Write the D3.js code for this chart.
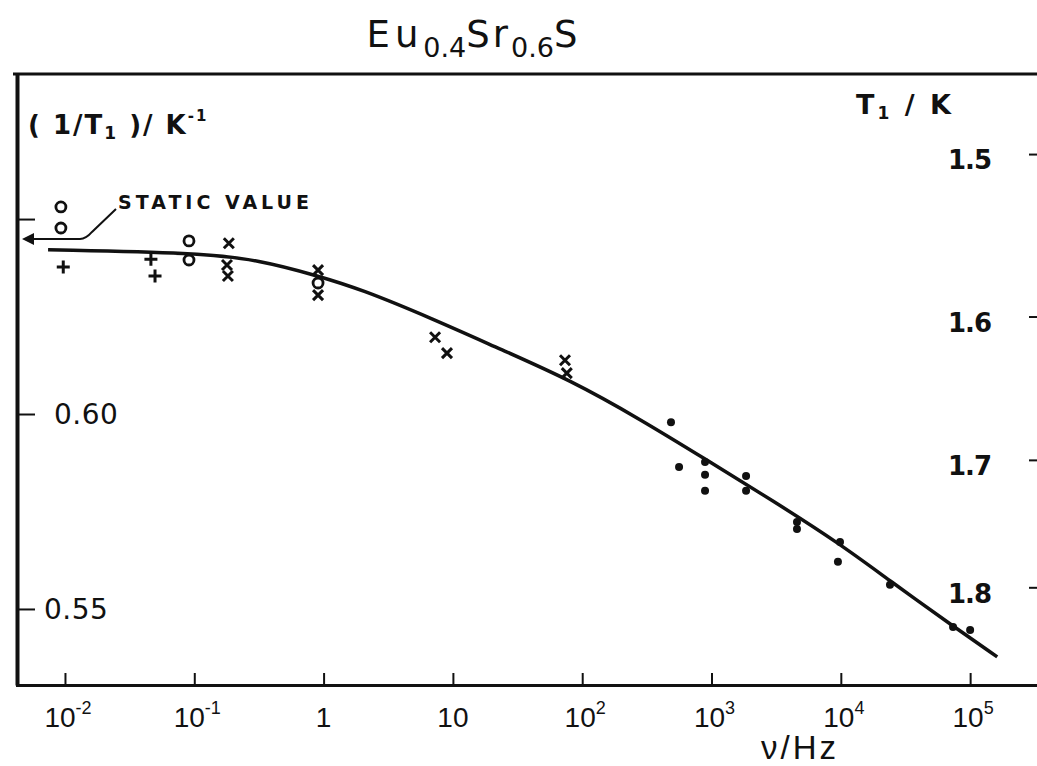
<!DOCTYPE html>
<html>
<head>
<meta charset="utf-8">
<script src="https://cdn.jsdelivr.net/npm/d3@7/dist/d3.min.js"></script>
<style>
  html, body { margin: 0; padding: 0; background: #fff; }
  svg { display: block; }
  text { fill: #111; }
</style>
</head>
<body>
<script>
// ---------------- DATA ----------------
// frequency (Hz) and 1/T1 (K^-1)
const circleNu  = [0.0093, 0.0093, 0.091, 0.091, 0.906];
const circleVal = [0.6531, 0.6477, 0.6444, 0.6395, 0.6336];

const plusNu  = [0.0097, 0.0462, 0.0497];
const plusVal = [0.6377, 0.6397, 0.6354];

const crossNu  = [0.185, 0.179, 0.182, 0.906, 0.906, 7.28, 9.0, 73.6, 76];
const crossVal = [0.6438, 0.6382, 0.6354, 0.6369, 0.6305, 0.6197, 0.6156, 0.6138, 0.6105];

const dotNu  = [486, 561, 891, 891, 891, 1850, 1850, 4580, 4580, 9860, 9500, 24000, 73800, 100000];
const dotVal = [0.5979, 0.5864, 0.5877, 0.5844, 0.5803, 0.5841, 0.5803, 0.5705, 0.5723, 0.5672, 0.5621, 0.5562, 0.5454, 0.5446];

const curveNu  = [0.0074, 0.105, 0.32, 0.906, 1.91, 7.0, 23, 81, 280, 920, 3000, 9860, 24000, 73800, 162000];
const curveVal = [0.6421, 0.6413, 0.6395, 0.6354, 0.6321, 0.6244, 0.6167, 0.6087, 0.5987, 0.5882, 0.5777, 0.5667, 0.5572, 0.5456, 0.5377];

const staticValue = 0.6449;

const xTicks = [1e-2, 1e-1, 1, 10, 1e2, 1e3, 1e4, 1e5];
const xTickLabels = [["10","-2"],["10","-1"],["1",""],["10",""],["10","2"],["10","3"],["10","4"],["10","5"]];
const yTicksLeft = [0.55, 0.60, 0.65];
const yTickLabelsLeft = ["0.55", "0.60", ""];
const tTicksRight = [1.5, 1.6, 1.7, 1.8];
const tTickLabelsRight = ["1.5", "1.6", "1.7", "1.8"];

// ---------------- LAYOUT ----------------
const W = 1037, H = 766;
const L = 17, R = 1045, T = 74, B = 685;
const ink = "#111";

const svg = d3.select("body").append("svg").attr("width", W).attr("height", H);

const x = d3.scaleLog().domain([Math.pow(10, -2.371), Math.pow(10, 5.579)]).range([L, R]);
const y = d3.scaleLinear().domain([0.5305, 0.6872]).range([B, T]);

// frame
svg.append("line").attr("x1", 13).attr("x2", W).attr("y1", T).attr("y2", T)
  .attr("stroke", ink).attr("stroke-width", 3);

// bottom axis (ticks pointing inward/up)
const gx = svg.append("g").attr("transform", `translate(0,${B})`)
  .call(d3.axisBottom(x).tickValues(xTicks).tickSize(-12).tickFormat(""));
gx.select(".domain").attr("stroke", ink).attr("stroke-width", 3);
gx.selectAll(".tick line").attr("stroke", ink).attr("stroke-width", 2);

// left axis (ticks pointing inward/right)
const gy = svg.append("g").attr("transform", `translate(${L},0)`)
  .call(d3.axisLeft(y).tickValues(yTicksLeft).tickSize(-18).tickSizeOuter(0).tickFormat(""));
gy.select(".domain").attr("stroke", ink).attr("stroke-width", 4);
gy.selectAll(".tick line").attr("stroke", ink).attr("stroke-width", 2);

// right axis on T1 = 1/(1/T1)
const gr = svg.append("g").attr("transform", `translate(${R},0)`)
  .call(d3.axisRight(y).tickValues(tTicksRight.map(t => 1 / t)).tickSize(-16).tickSizeOuter(0).tickFormat(""));
gr.select(".domain").attr("stroke", ink).attr("stroke-width", 3);
gr.selectAll(".tick line").attr("stroke", ink).attr("stroke-width", 2);

// x tick labels
const xl = svg.append("g").attr("font-family", "'Liberation Sans Narrow','Liberation Sans',sans-serif")
  .attr("font-size", 28);
xTicks.forEach((v, i) => {
  const t = xl.append("text").attr("x", x(v) + (xTickLabels[i][1] ? 3 : 0)).attr("y", 727).attr("text-anchor", "middle");
  t.append("tspan").text(xTickLabels[i][0]);
  if (xTickLabels[i][1]) {
    t.append("tspan").attr("font-size", 18).attr("dy", -13).text(xTickLabels[i][1]);
  }
});

// left tick labels (inside the plot)
yTicksLeft.forEach((v, i) => {
  if (!yTickLabelsLeft[i]) return;
  svg.append("text").attr("x", i === 0 ? 44 : 54).attr("y", y(v)).attr("dy", "0.36em")
    .attr("font-family", "'DejaVu Sans',sans-serif").attr("font-size", 28).attr("letter-spacing", 0.5)
    .text(yTickLabelsLeft[i]);
});

// right tick labels (inside the plot)
tTicksRight.forEach((t, i) => {
  svg.append("text").attr("x", 991).attr("y", y(1 / t) + 6).attr("dy", "0.36em")
    .attr("text-anchor", "end")
    .attr("font-family", "'DejaVu Sans',sans-serif").attr("font-weight", "bold").attr("font-size", 26)
    .attr("letter-spacing", -1)
    .text(tTickLabelsRight[i]);
});

// title
const title = svg.append("text").attr("x", 472).attr("y", 47).attr("text-anchor", "middle")
  .attr("font-family", "'DejaVu Sans',sans-serif").attr("font-size", 37);
title.append("tspan").attr("letter-spacing", 5).text("Eu");
title.append("tspan").attr("font-size", 27).attr("letter-spacing", 0).attr("dy", 10).text("0.4");
title.append("tspan").attr("letter-spacing", 3).attr("dy", -10).text("Sr");
title.append("tspan").attr("font-size", 27).attr("letter-spacing", 0).attr("dy", 10).text("0.6");
title.append("tspan").attr("dy", -10).text("S");

// left axis title
const lt = svg.append("text").attr("x", 28).attr("y", 134)
  .attr("font-family", "'DejaVu Sans',sans-serif").attr("font-size", 26).attr("font-weight", "bold")
  .attr("letter-spacing", 2);
lt.append("tspan").text("( 1/T");
lt.append("tspan").attr("font-size", 17).attr("dy", 5).text("1");
lt.append("tspan").attr("dy", -5).text(" )/ K");
lt.append("tspan").attr("font-size", 15).attr("dy", -13).text("-1");

// right axis title
const rt = svg.append("text").attr("x", 856).attr("y", 114)
  .attr("font-family", "'DejaVu Sans',sans-serif").attr("font-size", 27).attr("font-weight", "bold")
  .attr("letter-spacing", 3);
rt.append("tspan").text("T");
rt.append("tspan").attr("font-size", 17).attr("dy", 5).text("1");
rt.append("tspan").attr("dy", -5).text(" / K");

// x axis title
svg.append("text").attr("x", 800).attr("y", 759).attr("text-anchor", "middle")
  .attr("font-family", "'Liberation Sans Narrow','Liberation Sans',sans-serif").attr("font-size", 33)
  .attr("letter-spacing", 3)
  .text("ν/Hz");

// static value annotation
const sy = y(staticValue);
svg.append("path")
  .attr("d", `M${L + 5},${sy} L${L + 17},${sy - 6} L${L + 17},${sy + 6} Z`)
  .attr("fill", ink);
svg.append("path")
  .attr("d", `M${L + 17},${sy} L80,${sy} Q86,${sy} 92,${sy - 7} L116,${sy - 30}`)
  .attr("fill", "none").attr("stroke", ink).attr("stroke-width", 2);
svg.append("text").attr("x", 118).attr("y", 209)
  .attr("font-family", "'DejaVu Sans',sans-serif").attr("font-weight", "bold").attr("font-size", 19)
  .attr("letter-spacing", 4).text("STATIC VALUE");

// fitted curve
const curvePts = curveNu.map((n, i) => [x(n), y(curveVal[i])]);
svg.append("path").attr("d", d3.line().curve(d3.curveBasis)(curvePts))
  .attr("fill", "none").attr("stroke", ink).attr("stroke-width", 3.5);

// markers
const mk = svg.append("g");
circleNu.forEach((n, i) => {
  mk.append("circle").attr("cx", x(n)).attr("cy", y(circleVal[i])).attr("r", 5)
    .attr("fill", "#fff").attr("stroke", ink).attr("stroke-width", 2.8);
});
plusNu.forEach((n, i) => {
  const cx = x(n), cy = y(plusVal[i]), s = 6.5;
  mk.append("path").attr("d", `M${cx - s},${cy} H${cx + s} M${cx},${cy - s} V${cy + s}`)
    .attr("stroke", ink).attr("stroke-width", 3);
});
crossNu.forEach((n, i) => {
  const cx = x(n), cy = y(crossVal[i]), s = 5;
  mk.append("path").attr("d", `M${cx - s},${cy - s} L${cx + s},${cy + s} M${cx - s},${cy + s} L${cx + s},${cy - s}`)
    .attr("stroke", ink).attr("stroke-width", 3);
});
dotNu.forEach((n, i) => {
  mk.append("circle").attr("cx", x(n)).attr("cy", y(dotVal[i])).attr("r", 4).attr("fill", ink);
});
</script>
</body>
</html>
